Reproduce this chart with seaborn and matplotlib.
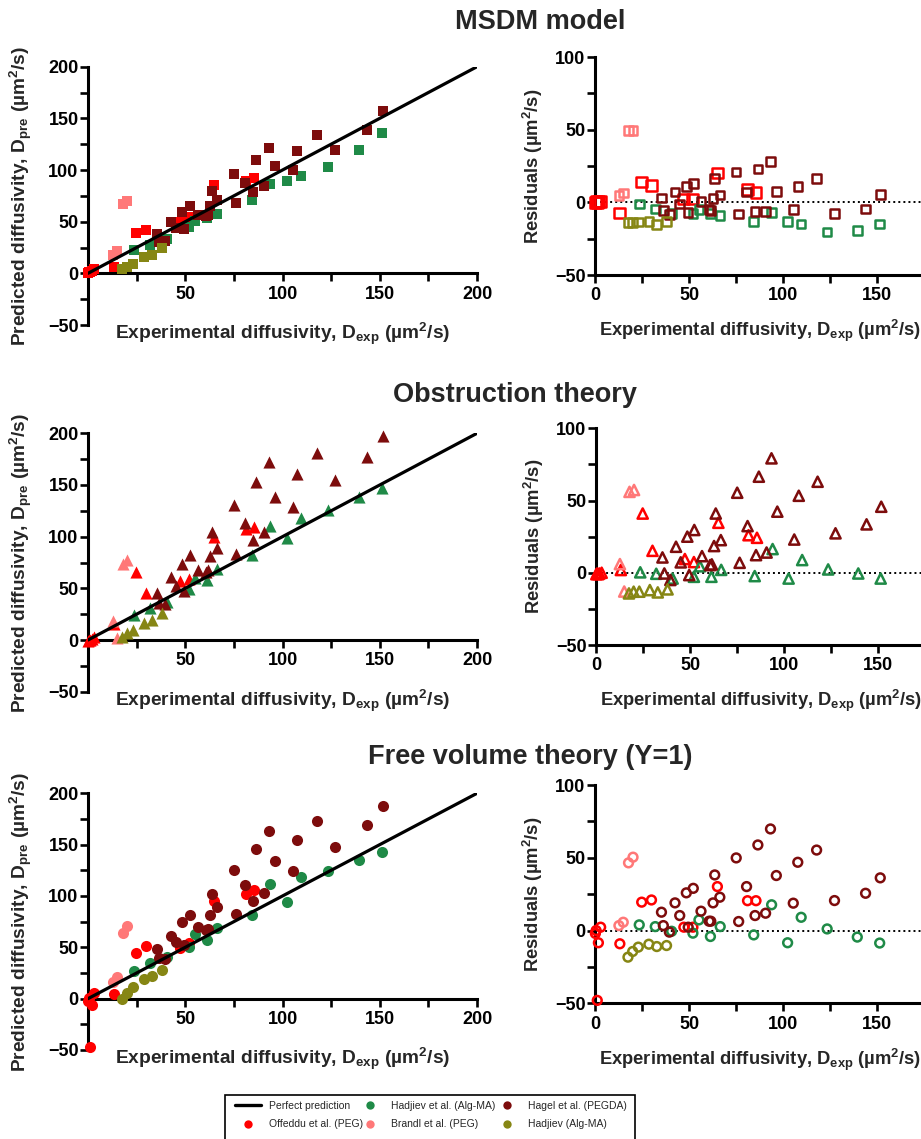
import matplotlib
matplotlib.use("Agg")
import numpy as np
import pandas as pd
import matplotlib.pyplot as plt
import seaborn as sns
from matplotlib.lines import Line2D
from matplotlib.patches import Rectangle
from matplotlib.ticker import MultipleLocator, FixedLocator
from matplotlib import font_manager

# ---------------- data ----------------
models = ["MSDM model", "Obstruction theory", "Free volume theory (Y=1)"]
dataset_names = ["Offeddu et al. (PEG)", "Hadjiev et al. (Alg-MA)", "Brandl et al. (PEG)",
                 "Hagel et al. (PEGDA)", "Hadjiev (Alg-MA)"]
dataset_colors = ["#ff0000", "#1f8a47", "#ff7878", "#7d0c0c", "#868614"]

# experimental diffusivity (um^2/s) and residuals (predicted - experimental) per model
offeddu_exp = [0.2, 0.6, 1.2, 1.8, 3.0, 13.2, 24.8, 30.0, 47.2, 52.0, 65.0, 81.0, 85.5]
offeddu_res_msdm = [0, 0.5, 0, 0.5, 0.8, -7.3, 14, 11.7, 2.3, 2.3, 20.2, 8.7, 6.9]
offeddu_res_obst = [-1, -0.5, -1, -0.5, 0, 1.9, 41, 15.2, 9.5, 7.4, 34.6, 26, 24.2]
offeddu_res_fvt = [-2, 0, -48, -8.4, 2.3, -9.1, 19.5, 21, 2.3, 2.3, 30.2, 20.5, 20.5]

hadjiev_exp = [23.5, 32.0, 40.7, 52.0, 55.2, 61.3, 66.5, 84.3, 93.8, 102.3, 109.5, 123.3, 139.3, 151.2]
hadjiev_res_msdm = [-1, -4.5, -7.5, -7.5, -5, -7.5, -9, -13, -7, -13, -15, -20.5, -19.5, -15]
hadjiev_res_obst = [0.3, -0.7, -4, -2.8, 4.5, -2.8, 2, -2.3, 16.4, -4, 8.8, 2.3, -0.5, -4]
hadjiev_res_fvt = [3.9, 2.7, -0.5, -1.8, 7.3, -4.1, 2.7, -3, 17.7, -8.4, 9.1, 1.1, -4.5, -8.6]

brandl_exp = [12.7, 15.0, 17.8, 20.2]
brandl_res_msdm = [4.8, 6.4, 49.4, 49.4]
brandl_res_obst = [6.0, -13.0, 56.0, 57.3]
brandl_res_fvt = [3.4, 5.7, 46.5, 50.4]

hagel_exp = [35.3, 36.3, 39.5, 42.5, 45.0, 48.5, 49.5, 52.2, 56.3, 60.6, 61.5, 62.7, 63.6, 66.3,
             75.0, 76.3, 80.5, 85.0, 86.5, 90.6, 93.2, 96.3, 105.3, 107.7, 117.7, 127.2, 143.7, 151.5]
hagel_res_msdm = [3, -5.5, -8.5, 7, -1, 11, -7, 13, 0.5, -5, -5.5, 2.5, 16.5, 5,
                  21, -8, 7, -6.5, 23, -6.5, 28, 7.5, -5, 11, 16.5, -7.5, -4.5, 5.5]
hagel_res_obst = [10.6, -0.5, -5, 18, 7.2, 25, -1.6, 29.6, 11.5, 5.3, 5.8, 18.5, 41, 22.6,
                  55.4, 6.9, 32.3, 12.2, 66.5, 14, 79.2, 42.3, 23, 53.3, 63, 27.3, 33.5, 45.7]
hagel_res_fvt = [12.6, 3.4, -1.1, 19, 10.3, 25.9, 2.3, 29, 13.3, 6.4, 6.4, 19, 38.2, 22.9,
                 49.9, 6.2, 30.2, 10.3, 58.8, 11.9, 69.8, 37.8, 18.8, 46.9, 55.3, 20.6, 25.6, 36.2]

hadjiev2_exp = [17.5, 20.0, 23.0, 28.6, 32.8, 38.0]
hadjiev2_res_msdm = [-13.7, -13.7, -13.5, -13.0, -15.3, -13.3]
hadjiev2_res_obst = [-14.3, -13.1, -13.1, -12.0, -13.6, -11.5]
hadjiev2_res_fvt = [-18.3, -14.4, -11.4, -9.4, -11.0, -10.3]

perfect_x = [0, 200]

series = {
    "Offeddu et al. (PEG)": (offeddu_exp, [offeddu_res_msdm, offeddu_res_obst, offeddu_res_fvt]),
    "Hadjiev et al. (Alg-MA)": (hadjiev_exp, [hadjiev_res_msdm, hadjiev_res_obst, hadjiev_res_fvt]),
    "Brandl et al. (PEG)": (brandl_exp, [brandl_res_msdm, brandl_res_obst, brandl_res_fvt]),
    "Hagel et al. (PEGDA)": (hagel_exp, [hagel_res_msdm, hagel_res_obst, hagel_res_fvt]),
    "Hadjiev (Alg-MA)": (hadjiev2_exp, [hadjiev2_res_msdm, hadjiev2_res_obst, hadjiev2_res_fvt]),
}
rows = []
for ds, (xs, res_lists) in series.items():
    for m, res in zip(models, res_lists):
        for x, r in zip(xs, res):
            rows.append({"dataset": ds, "model": m, "exp": x, "res": r, "pred": x + r})
df = pd.DataFrame(rows)
color_map = dict(zip(dataset_names, dataset_colors))

# ---------------- style ----------------
sns.set_style("ticks")
plt.rcParams["font.family"] = ["Liberation Sans", "DejaVu Sans"]
plt.rcParams["font.weight"] = "bold"
plt.rcParams["axes.labelweight"] = "bold"
plt.rcParams["mathtext.fontset"] = "custom"
plt.rcParams["mathtext.rm"] = "Liberation Sans:bold"
plt.rcParams["mathtext.bf"] = "Liberation Sans:bold"
plt.rcParams["mathtext.it"] = "Liberation Sans:bold"
plt.rcParams["mathtext.default"] = "rm"

W, H = 921, 1139
fig = plt.figure(figsize=(W / 100, H / 100), dpi=100)


def rect(x0, x1, ytop, ybot):
    return [x0 / W, 1 - ybot / H, (x1 - x0) / W, (ybot - ytop) / H]


left_rects = [rect(88, 477, 66.7, 325), rect(88, 477, 433.3, 691.7), rect(88, 477, 793.3, 1050)]
right_rects = [rect(595, 924.5, 57, 275), rect(596, 925.5, 428.3, 645), rect(595, 924.5, 785, 1003.3)]
title_pos = [(540, 22), (515, 395), (530, 757)]
markers = ["s", "^", "o"]
size_left = [54, 76, 64]
size_right = [38, 54, 40]

TICK_FS = 13
LAB_FS_L = 13.8
LAB_FS_R = 13.2
SPINE_W = 2.2
xlab = r"Experimental diffusivity, D$_{exp}$ (µm$^{2}$/s)"


def style_axis(ax):
    for s in ["top", "right"]:
        ax.spines[s].set_visible(False)
    for s in ["left", "bottom"]:
        ax.spines[s].set_linewidth(SPINE_W)
        ax.spines[s].set_color("black")
    ax.tick_params(which="both", direction="out", length=5.8, width=1.9, colors="black",
                   labelsize=TICK_FS)
    ax.tick_params(axis="y", which="both", pad=1)
    ax.tick_params(axis="x", which="both", pad=3)
    ax.set_facecolor("none")
    ax.grid(False)


for i, model in enumerate(models):
    axL = fig.add_axes(left_rects[i])
    axR = fig.add_axes(right_rects[i])
    sub = df[df["model"] == model]
    for ds in dataset_names:
        d = sub[sub["dataset"] == ds]
        c = color_map[ds]
        sns.scatterplot(data=d, x="exp", y="pred", ax=axL, color=c, marker=markers[i],
                        s=size_left[i], linewidth=0, clip_on=False, zorder=3, legend=False)
        sR = size_right[i] * (1.6 if (i == 0 and ds == "Offeddu et al. (PEG)") else 1.0)
        sns.scatterplot(data=d, x="exp", y="res", ax=axR, color=c, facecolor="none",
                        edgecolor=c, marker=markers[i], s=sR, linewidth=1.8,
                        clip_on=False, zorder=3, legend=False)
    sns.lineplot(x=perfect_x, y=perfect_x, ax=axL, color="black", linewidth=2.3, zorder=4)
    axR.axhline(0, color="black", linestyle=(0, (1, 1.6)), linewidth=1.4, zorder=1)

    # left panel axes
    axL.set_xlim(0, 200)
    axL.set_ylim(-50, 200)
    style_axis(axL)
    axL.spines["bottom"].set_position(("data", 0))
    axL.xaxis.set_major_locator(FixedLocator([50, 100, 150, 200]))
    axL.xaxis.set_minor_locator(FixedLocator([25, 75, 125, 175]))
    axL.yaxis.set_major_locator(MultipleLocator(50))
    axL.yaxis.set_minor_locator(MultipleLocator(25))
    axL.set_xlabel(xlab, fontsize=LAB_FS_L, va="top")
    axL.xaxis.set_label_coords(0.5, 0.015)
    axL.set_ylabel(r"Predicted diffusivity, D$_{pre}$ (µm$^{2}$/s)", fontsize=LAB_FS_L)
    axL.yaxis.set_label_coords(-0.139, 0.5)

    # right panel axes
    axR.set_xlim(0, 175)
    axR.set_ylim(-50, 100)
    style_axis(axR)
    axR.xaxis.set_major_locator(MultipleLocator(50))
    axR.xaxis.set_minor_locator(MultipleLocator(25))
    axR.yaxis.set_major_locator(MultipleLocator(50))
    axR.yaxis.set_minor_locator(MultipleLocator(25))
    axR.set_xlabel(xlab, fontsize=LAB_FS_R, va="top")
    axR.xaxis.set_label_coords(0.5, -0.198)
    axR.set_ylabel(r"Residuals (µm$^{2}$/s)", fontsize=LAB_FS_R)
    axR.yaxis.set_label_coords(-0.152, 0.5)

    tx, ty = title_pos[i]
    fig.text(tx / W, 1 - ty / H, model, ha="center", va="center", fontsize=19.5,
             fontweight="bold")

# ---------------- legend ----------------
names = {f.name for f in font_manager.fontManager.ttflist}
if "Liberation Sans Narrow" in names:
    leg_family, leg_size = "Liberation Sans Narrow", 8.5
else:
    leg_family, leg_size = "Liberation Sans", 7.5
leg_px = leg_size * 100 / 72
hl = 26 / leg_px


def mk(c):
    return Line2D([], [], linestyle="none", marker="o", markersize=6, color=c,
                  markeredgewidth=0)


columns = [
    ([Line2D([], [], color="black", linewidth=2.4), mk(color_map["Offeddu et al. (PEG)"])],
     ["Perfect prediction", "Offeddu et al. (PEG)"], 235),
    ([mk(color_map["Hadjiev et al. (Alg-MA)"]), mk(color_map["Brandl et al. (PEG)"])],
     ["Hadjiev et al. (Alg-MA)", "Brandl et al. (PEG)"], 357),
    ([mk(color_map["Hagel et al. (PEGDA)"]), mk(color_map["Hadjiev (Alg-MA)"])],
     ["Hagel et al. (PEGDA)", "Hadjiev (Alg-MA)"], 494),
]
for handles, labels, x0 in columns:
    fig.legend(handles, labels, loc="upper left", bbox_to_anchor=(x0 / W, 1 - 1101 / H),
               bbox_transform=fig.transFigure, frameon=False, borderpad=0, borderaxespad=0,
               handlelength=hl, handletextpad=0.8, labelspacing=0.8,
               prop={"family": leg_family, "size": leg_size, "weight": "normal"})
fig.patches.append(Rectangle((225 / W, 1 - 1142 / H), (635 - 225) / W, (1142 - 1095) / H,
                             transform=fig.transFigure, fill=False, edgecolor="black",
                             linewidth=1.2))

fig.savefig("out.png", dpi=100)
